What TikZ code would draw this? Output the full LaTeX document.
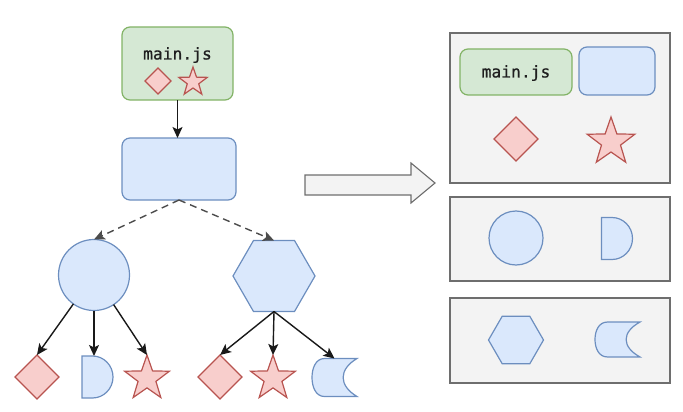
\documentclass[tikz,border=0pt]{standalone}
\usepackage{fontspec}
\newfontfamily\codefont[FakeBold=0.7]{DejaVu Sans Mono}
\usetikzlibrary{shapes.geometric,arrows.meta,calc}
\definecolor{gfill}{HTML}{D5E8D4}
\definecolor{gline}{HTML}{82B366}
\definecolor{bfill}{HTML}{DAE8FC}
\definecolor{bline}{HTML}{6C8EBF}
\definecolor{rfill}{HTML}{F8CECC}
\definecolor{rline}{HTML}{B85450}
\definecolor{pfill}{HTML}{F3F3F3}
\definecolor{pline}{HTML}{6E6E6E}
\begin{document}
\begin{tikzpicture}[x=1pt,y=-1pt,
  every node/.style={inner sep=0pt, outer sep=0pt},
  gbox/.style={draw=gline, fill=gfill, line width=1.2pt, rounded corners=8pt},
  bbox/.style={draw=bline, fill=bfill, line width=1.2pt, rounded corners=8pt},
  bshape/.style={draw=bline, fill=bfill, line width=1.2pt},
  rdiamond/.style={diamond, aspect=1, draw=rline, fill=rfill, line width=1.2pt},
  rstar/.style={star, star points=5, star point ratio=2.5, draw=rline, fill=rfill, line width=1.2pt},
  hexa/.style={regular polygon, regular polygon sides=6, bshape},
  panel/.style={draw=pline, fill=pfill, line width=1.3pt},
  lbl/.style={font=\codefont\fontsize{16.3}{18}\selectfont, text=black!88},
  arr/.style={-{Stealth[length=11pt,width=10pt,inset=2.5pt]}, line width=1.4pt, draw=black!90},
  darr/.style={arr, dash pattern=on 7pt off 5pt, draw=black!70},
  dshape/.pic={\path[bshape] (-15.5,-21) -- (-5,-21) .. controls (6.3,-21) and (15.5,-11.6) .. (15.5,0)
      .. controls (15.5,11.6) and (6.3,21) .. (-5,21) -- (-15.5,21) -- cycle;},
  moon/.pic={\path[bshape] (-10,-19) -- (22.5,-19) .. controls (4,-8) and (4,8) .. (22.5,19) -- (-10,19)
      .. controls (-19,19) and (-22.5,9) .. (-22.5,0) .. controls (-22.5,-9) and (-19,-19) .. (-10,-19) -- cycle;}
]
\useasboundingbox (0,0) rectangle (683,412);

% ---- module tree ----
\node[gbox, minimum width=111, minimum height=73] (top) at (177.5,63.5) {};
\node[lbl] (toplbl) at (177.5,55) {main.js};
\node[rdiamond, minimum size=26] (topd) at (158,81) {};
\node[rstar, minimum size=30] (tops) at (193,82) {};

\node[bbox, minimum width=114, minimum height=62] (b) at (179,169) {};

\node[circle, bshape, minimum size=71] (c) at (94,275) {};
\node[hexa, minimum size=82] (h) at (274,276) {};

\node[rdiamond, minimum size=44] (cd) at (37,377) {};
\node[minimum width=31, minimum height=42] (cD) at (97.5,377) {};
\pic at (97.5,377) {dshape};
\node[rstar, minimum size=47] (cs) at (147,378.5) {};

\node[rdiamond, minimum size=44] (hd) at (220,377) {};
\node[rstar, minimum size=47] (hs) at (273,378.5) {};
\node[minimum width=45, minimum height=38] (hm) at (334.5,377.5) {};
\pic at (334.5,377.5) {moon};

% connectors
\draw[arr] (top.south -| toplbl) -- (b.north -| toplbl);
\draw[darr] (b.south) -- (c.north);
\draw[darr] (b.south) -- (h.north);
\draw[arr] (c) -- (cd.north);
\draw[arr] (c.south) -- (c.south |- cD.north);
\draw[arr] (c) -- (cs.outer point 1);
\draw[arr] (h.south) -- (hd.north);
\draw[arr] (h.south) -- (hs.outer point 1);
\draw[arr] (h.south) -- (hm.north);

% ---- big arrow ----
\path[panel, line width=1.1pt] (305,175) -- (411,175) -- (411,163) -- (435,183) -- (411,203) -- (411,195) -- (305,195) -- cycle;

% ---- chunk panels ----
\node[panel, minimum width=220, minimum height=150] (p1) at (560,108) {};
\node[panel, minimum width=220, minimum height=84] (p2) at (560,239) {};
\node[panel, minimum width=220, minimum height=85] (p3) at (560,340.5) {};

\node[gbox, minimum width=112, minimum height=46] (pg) at (516,72) {};
\node[lbl] (pglbl) at (516,73) {main.js};
\node[bbox, minimum width=76, minimum height=48] (pb) at (617,71) {};
\node[rdiamond, minimum size=44] (pd) at (516,139) {};
\node[rstar, minimum size=50] (ps) at (611,142) {};

\node[circle, bshape, minimum size=54] (pc) at (516,238) {};
\node[minimum width=32, minimum height=43] (pD) at (617,238.5) {};
\pic at (617,238.5) {dshape};

\node[hexa, minimum size=55] (ph) at (516,340) {};
\node[minimum width=47, minimum height=35] (pm) at (617.5,339.5) {};
\pic[yscale=0.92] at (617.5,339.5) {moon};
\end{tikzpicture}
\end{document}
